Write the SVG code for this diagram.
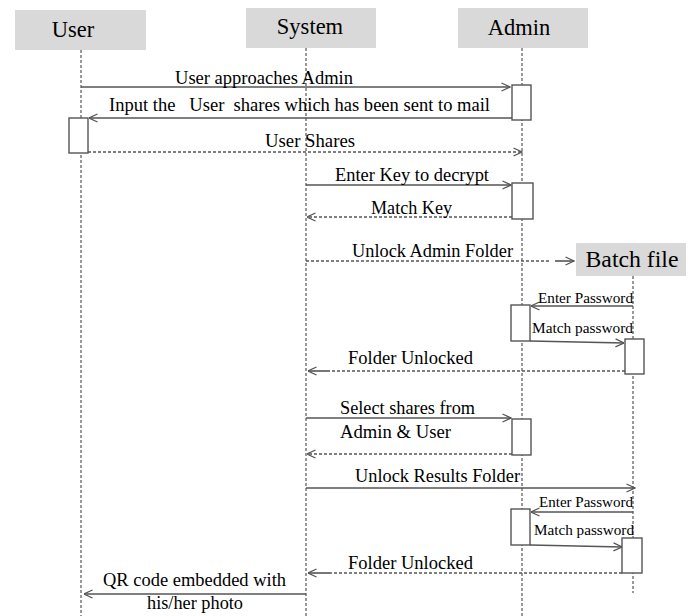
<svg xmlns="http://www.w3.org/2000/svg" width="698" height="616" viewBox="0 0 698 616">
  <style>
    .head { fill: #d9d9d9; }
    .htxt { font-family: "Liberation Serif", "Times New Roman", serif; font-size: 22.5px; fill: #000; text-anchor: middle; }
    .life { stroke: #555; stroke-width: 1.2; stroke-dasharray: 3 2; fill: none; }
    .act { fill: #fff; stroke: #555; stroke-width: 1.4; }
    .msg { stroke: #555; stroke-width: 1.6; fill: none; }
    .ret { stroke: #555; stroke-width: 1.4; stroke-dasharray: 3 2; fill: none; }
    .lbl { font-family: "Liberation Serif", "Times New Roman", serif; font-size: 18px; fill: #000; white-space: pre; }
    .sm { font-family: "Liberation Serif", "Times New Roman", serif; font-size: 15px; fill: #000; }
  </style>
  <defs>
    <marker id="arrow" viewBox="0 0 10 10" refX="9.5" refY="5" markerWidth="10" markerHeight="10" markerUnits="userSpaceOnUse" orient="auto">
      <path d="M1,1 L9.5,5 L1,9" fill="none" stroke="#555" stroke-width="1.3"/>
    </marker>
  </defs>

  <rect width="698" height="616" fill="#fff"/>

  <!-- lifeline participants -->
  <g id="user">
    <rect class="head" x="15" y="10" width="131" height="40"/>
    <text class="htxt" x="73" y="37">User</text>
    <line class="life" x1="81" y1="50" x2="81" y2="616"/>
    <rect class="act" x="69" y="118" width="19" height="35"/>
  </g>

  <g id="system">
    <rect class="head" x="246" y="8" width="130" height="40"/>
    <text class="htxt" x="310" y="34">System</text>
    <line class="life" x1="306" y1="48" x2="306" y2="616"/>
  </g>

  <g id="admin">
    <rect class="head" x="458" y="8" width="130" height="40"/>
    <text class="htxt" x="519" y="35">Admin</text>
    <line class="life" x1="522" y1="48" x2="522" y2="616"/>
    <rect class="act" x="512" y="85" width="19" height="35"/>
    <rect class="act" x="512" y="183" width="21" height="36"/>
    <rect class="act" x="511" y="305" width="19" height="36"/>
    <rect class="act" x="512" y="419" width="19" height="36"/>
    <rect class="act" x="511" y="509" width="19" height="36"/>
  </g>

  <g id="batch-file">
    <rect class="head" x="576" y="243" width="110" height="33"/>
    <text class="htxt" x="632" y="267" font-size="23" textLength="93" lengthAdjust="spacingAndGlyphs">Batch file</text>
    <line class="life" x1="633" y1="276" x2="633" y2="593"/>
    <rect class="act" x="625" y="339" width="19" height="35"/>
    <rect class="act" x="622" y="538" width="20" height="35"/>
  </g>

  <!-- messages -->
  <g id="messages">
    <line class="msg" x1="81" y1="87" x2="510" y2="87" marker-end="url(#arrow)"/>
    <text class="lbl" x="175" y="84" textLength="178" lengthAdjust="spacingAndGlyphs">User approaches Admin</text>

    <line class="msg" x1="512" y1="118" x2="89" y2="118" marker-end="url(#arrow)"/>
    <text class="lbl" x="109" y="111" textLength="381" lengthAdjust="spacingAndGlyphs">Input the   User  shares which has been sent to mail</text>

    <line class="ret" x1="88" y1="152" x2="522" y2="152" marker-end="url(#arrow)"/>
    <text class="lbl" x="265" y="147" textLength="90" lengthAdjust="spacingAndGlyphs">User Shares</text>

    <line class="msg" x1="306" y1="185" x2="511" y2="185" marker-end="url(#arrow)"/>
    <text class="lbl" x="335" y="181" textLength="154" lengthAdjust="spacingAndGlyphs">Enter Key to decrypt</text>

    <line class="ret" x1="512" y1="217" x2="307" y2="217" marker-end="url(#arrow)"/>
    <text class="lbl" x="371" y="214" textLength="81" lengthAdjust="spacingAndGlyphs">Match Key</text>

    <line class="ret" x1="306" y1="261" x2="551" y2="261"/>
    <line class="msg" x1="555" y1="261" x2="574" y2="261" marker-end="url(#arrow)"/>
    <text class="lbl" x="352" y="257" textLength="161" lengthAdjust="spacingAndGlyphs">Unlock Admin Folder</text>

    <line class="msg" x1="633" y1="306" x2="531" y2="306" marker-end="url(#arrow)"/>
    <text class="sm" x="538" y="303" textLength="95" lengthAdjust="spacingAndGlyphs">Enter Password</text>

    <line class="msg" x1="530" y1="341" x2="624" y2="343" marker-end="url(#arrow)"/>
    <text class="sm" x="532" y="333" textLength="101" lengthAdjust="spacingAndGlyphs">Match password</text>

    <line class="ret" x1="625" y1="371" x2="330" y2="371"/>
    <line class="msg" x1="330" y1="371" x2="308" y2="371" marker-end="url(#arrow)"/>
    <text class="lbl" x="348" y="364" textLength="125" lengthAdjust="spacingAndGlyphs">Folder Unlocked</text>

    <line class="msg" x1="306" y1="418" x2="511" y2="418" marker-end="url(#arrow)"/>
    <text class="lbl" x="340" y="414" textLength="135" lengthAdjust="spacingAndGlyphs">Select shares from</text>
    <text class="lbl" x="340" y="438" textLength="111" lengthAdjust="spacingAndGlyphs">Admin &amp; User</text>

    <line class="ret" x1="512" y1="454" x2="307" y2="454" marker-end="url(#arrow)"/>

    <line class="msg" x1="306" y1="488" x2="635" y2="488" marker-end="url(#arrow)"/>
    <text class="lbl" x="355" y="482" textLength="165" lengthAdjust="spacingAndGlyphs">Unlock Results Folder</text>

    <line class="msg" x1="633" y1="512" x2="531" y2="512" marker-end="url(#arrow)"/>
    <text class="sm" x="539" y="507" textLength="94" lengthAdjust="spacingAndGlyphs">Enter Password</text>

    <line class="msg" x1="530" y1="545" x2="622" y2="547" marker-end="url(#arrow)"/>
    <text class="sm" x="534" y="535" textLength="100" lengthAdjust="spacingAndGlyphs">Match password</text>

    <line class="ret" x1="622" y1="573" x2="330" y2="573"/>
    <line class="msg" x1="330" y1="573" x2="308" y2="573" marker-end="url(#arrow)"/>
    <text class="lbl" x="348" y="569" textLength="125" lengthAdjust="spacingAndGlyphs">Folder Unlocked</text>

    <line class="msg" x1="306" y1="594" x2="84" y2="594" marker-end="url(#arrow)"/>
    <text class="lbl" x="103" y="586" textLength="183" lengthAdjust="spacingAndGlyphs">QR code embedded with</text>
    <text class="lbl" x="147" y="609" textLength="96" lengthAdjust="spacingAndGlyphs">his/her photo</text>
  </g>
</svg>
